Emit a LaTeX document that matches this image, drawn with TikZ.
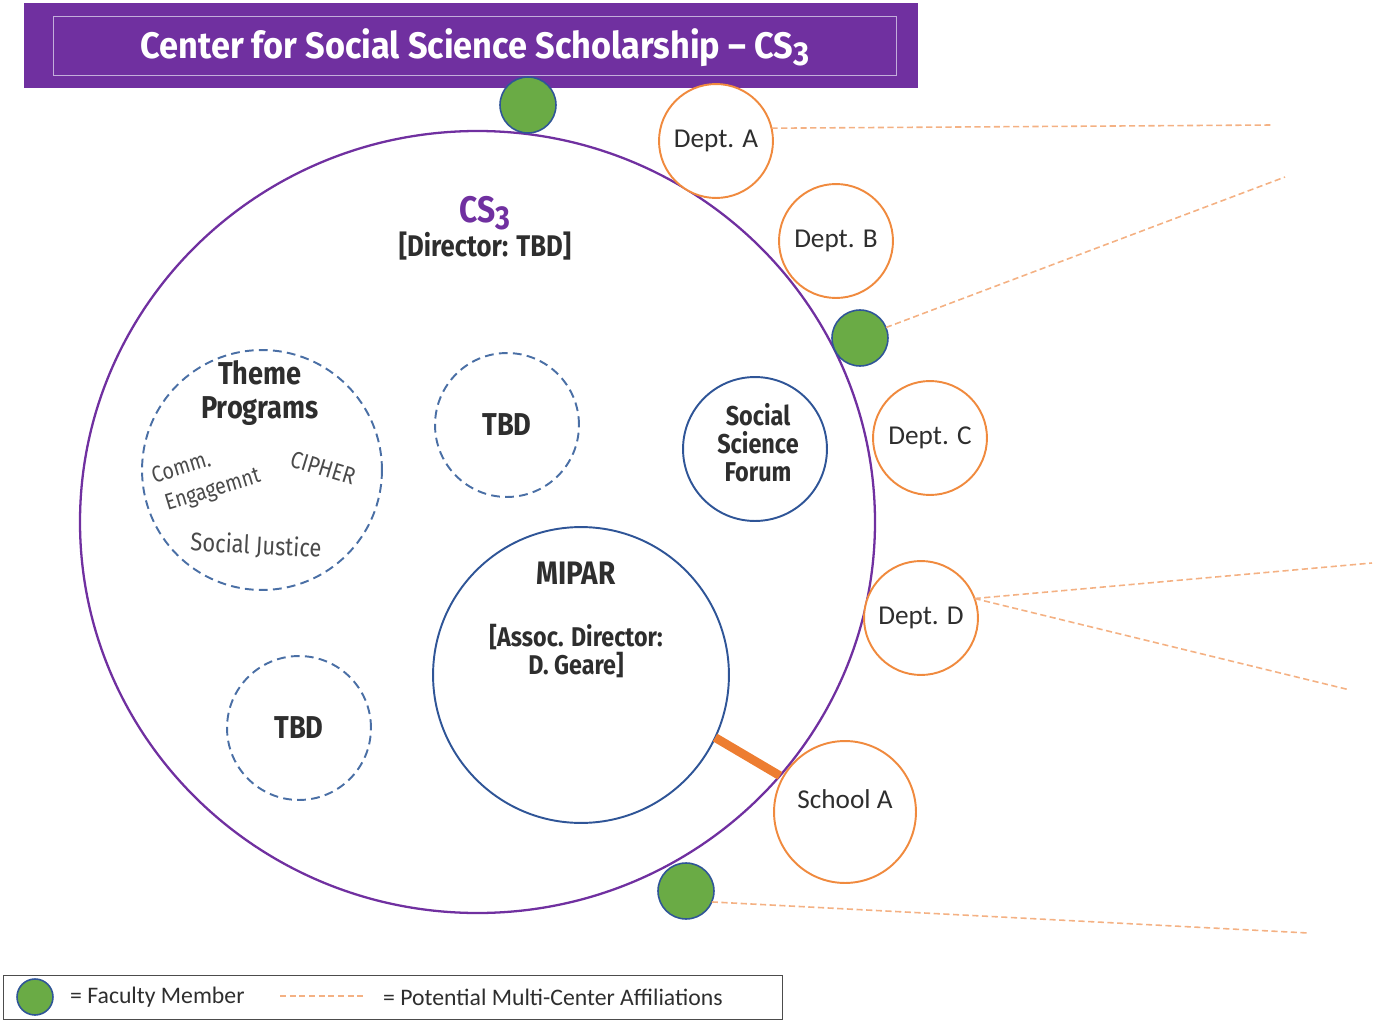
\documentclass[tikz,border=0pt]{standalone}
\usepackage{fontspec}
\setmainfont{Carlito}
\newfontfamily\din[FakeStretch=0.86]{Fira Sans}
\newfontfamily\dintitle[FakeStretch=0.93]{Fira Sans}
\usetikzlibrary{calc,shapes.geometric}

\definecolor{cspurple}{HTML}{7030A0}
\definecolor{bandline}{HTML}{C3AEDB}
\definecolor{ringblue}{HTML}{2F5597}
\definecolor{dashblue}{HTML}{4A6FA5}
\definecolor{faculty}{HTML}{6AAB45}
\definecolor{deptorange}{HTML}{F08A3E}
\definecolor{linkorange}{HTML}{F4B183}
\definecolor{thickorange}{HTML}{ED7D31}
\definecolor{labelgray}{HTML}{2E2E2E}
\definecolor{subgray}{HTML}{4A4A4A}

\newcommand\sub[1]{\raisebox{-0.35ex}{\scalebox{0.9}{#1}}}

\tikzset{
  ring/.style={circle, inner sep=0pt, outer sep=0pt, minimum size=#1*0.04cm},
  center/.style={ellipse, inner sep=0pt, outer sep=0pt, minimum width=795*0.02cm,
                 minimum height=782*0.02cm, draw=cspurple, line width=1.3pt},
  themering/.style={ring=#1, draw=dashblue, line width=1.1pt, dash pattern=on 5pt off 3pt},
  unitring/.style={ring=#1, draw=ringblue, line width=1.1pt},
  dept/.style={ring=#1, draw=deptorange, line width=1.1pt, fill=white, text=labelgray,
               font=\fontsize{15.5}{17}\selectfont},
  member/.style={ring=28, draw=ringblue, line width=0.9pt, fill=faculty},
  affil/.style={draw=linkorange, line width=0.9pt, dash pattern=on 3.5pt off 2pt},
  boldlabel/.style 2 args={text=labelgray, font=\din\bfseries\fontsize{#1}{#2}\selectfont, align=center},
  themelabel/.style 2 args={text=subgray, font=\din\fontsize{#1}{#2}\selectfont, inner sep=0pt},
}

\begin{document}
\begin{tikzpicture}[x=0.02cm, y=-0.02cm]
\useasboundingbox (0,0) rectangle (1374,1021);

% title banner
\node[fill=cspurple, minimum width=894*0.02cm, minimum height=85*0.02cm, inner sep=0pt, anchor=north west]
  (banner) at (24,3) {};
\node[draw=bandline, line width=0.6pt, minimum width=843*0.02cm, minimum height=59*0.02cm, inner sep=0pt, anchor=north west]
  (bannerframe) at (53,16) {};
\node[text=white, font=\dintitle\bfseries\fontsize{21}{23}\selectfont] (title) at (475,48)
  {Center for Social Science Scholarship \textendash\ CS\sub{3}};

% the centre
\node[center] (cs) at (477.5,522) {};
\node[text=cspurple, font=\din\bfseries\fontsize{21}{23}\selectfont] (csname) at (485,213) {CS\sub{3}};
\node[boldlabel={17}{19}] (director) at (485,246) {[Director: TBD]};

% programs and units inside the centre
\node[themering=120] (theme) at (262,470) {};
\node[boldlabel={18}{19}] (themetitle) at (260,393) {Theme\\Programs};
\node[themelabel={13}{14.5}, rotate=17] (comm) at (181,467) {Comm.};
\node[themelabel={13}{14.5}, rotate=17] (engage) at (213,491) {Engagemnt};
\node[themelabel={13.5}{15}, rotate=-17] (cipher) at (323,468) {CIPHER};
\node[themelabel={14.5}{16}, rotate=-3] (justice) at (256,546) {Social Justice};

\node[themering=72] (tbdtop) at (507,425) {};
\node[boldlabel={18}{20}] at (tbdtop) {TBD};

\node[themering=72] (tbdlow) at (299,728) {};
\node[boldlabel={18}{20}] at (tbdlow) {TBD};

\node[unitring=72] (forum) at (755,449) {};
\node[boldlabel={15.5}{16}] at (758,443) {Social\\Science\\Forum};

\node[unitring=148] (mipar) at (581,675) {};
\node[boldlabel={18.5}{20}] (mipartitle) at (576,573) {MIPAR};
\node[boldlabel={15.4}{16}] (assoc) at (576,651) {[Assoc. Director:\\D. Geare]};

% link from MIPAR to School A
\draw[thickorange, line width=5pt] (mipar.-25) -- (cs.-40);

% departments and schools
\node[dept=57] (depta) at (716,141) {Dept. A};
\node[dept=57] (deptb) at (836,241) {Dept. B};
\node[dept=57] (deptc) at (930,438) {Dept. C};
\node[dept=57] (deptd) at (921,618) {Dept. D};
\node[dept=71] (schoola) at (845,812) {\raisebox{0.95em}{School A}};

% faculty members
\node[member] (fac1) at (528,105) {};
\node[member] (fac2) at (860,338) {};
\node[member] (fac3) at (686,891) {};

% potential multi-centre affiliations
\coordinate (endA) at (1272,125);
\coordinate (endF2) at (1285,177);
\coordinate (endD1) at (1372,563);
\coordinate (endD2) at (1350,690);
\coordinate (endF3) at (1308,933);
\draw[affil] (depta.13) -- (endA);
\draw[affil] (fac2.22) -- (endF2);
\draw[affil] (deptd.20) -- (endD1);
\draw[affil] (deptd.20) -- (endD2);
\draw[affil] (fac3.-23) -- (endF3);

% legend
\node[draw=black!70, line width=0.7pt, minimum width=779*0.02cm, minimum height=44*0.02cm, inner sep=0pt, anchor=north west]
  (legend) at (3,975) {};
\node[circle, draw=ringblue, line width=0.9pt, fill=faculty, inner sep=0pt, minimum width=36*0.02cm] (legfac) at (35,997) {};
\node[anchor=west, text=labelgray, font=\fontsize{13.5}{15}\selectfont] (legfactext) at (64,997) {= Faculty Member};
\coordinate (legline1) at (280,996);
\coordinate (legline2) at (365,996);
\draw[affil] (legline1) -- (legline2);
\node[anchor=west, text=labelgray, font=\fontsize{13.5}{15}\selectfont] (legaffil) at (377,997) {= Potential Multi-Center Affiliations};
\end{tikzpicture}
\end{document}
